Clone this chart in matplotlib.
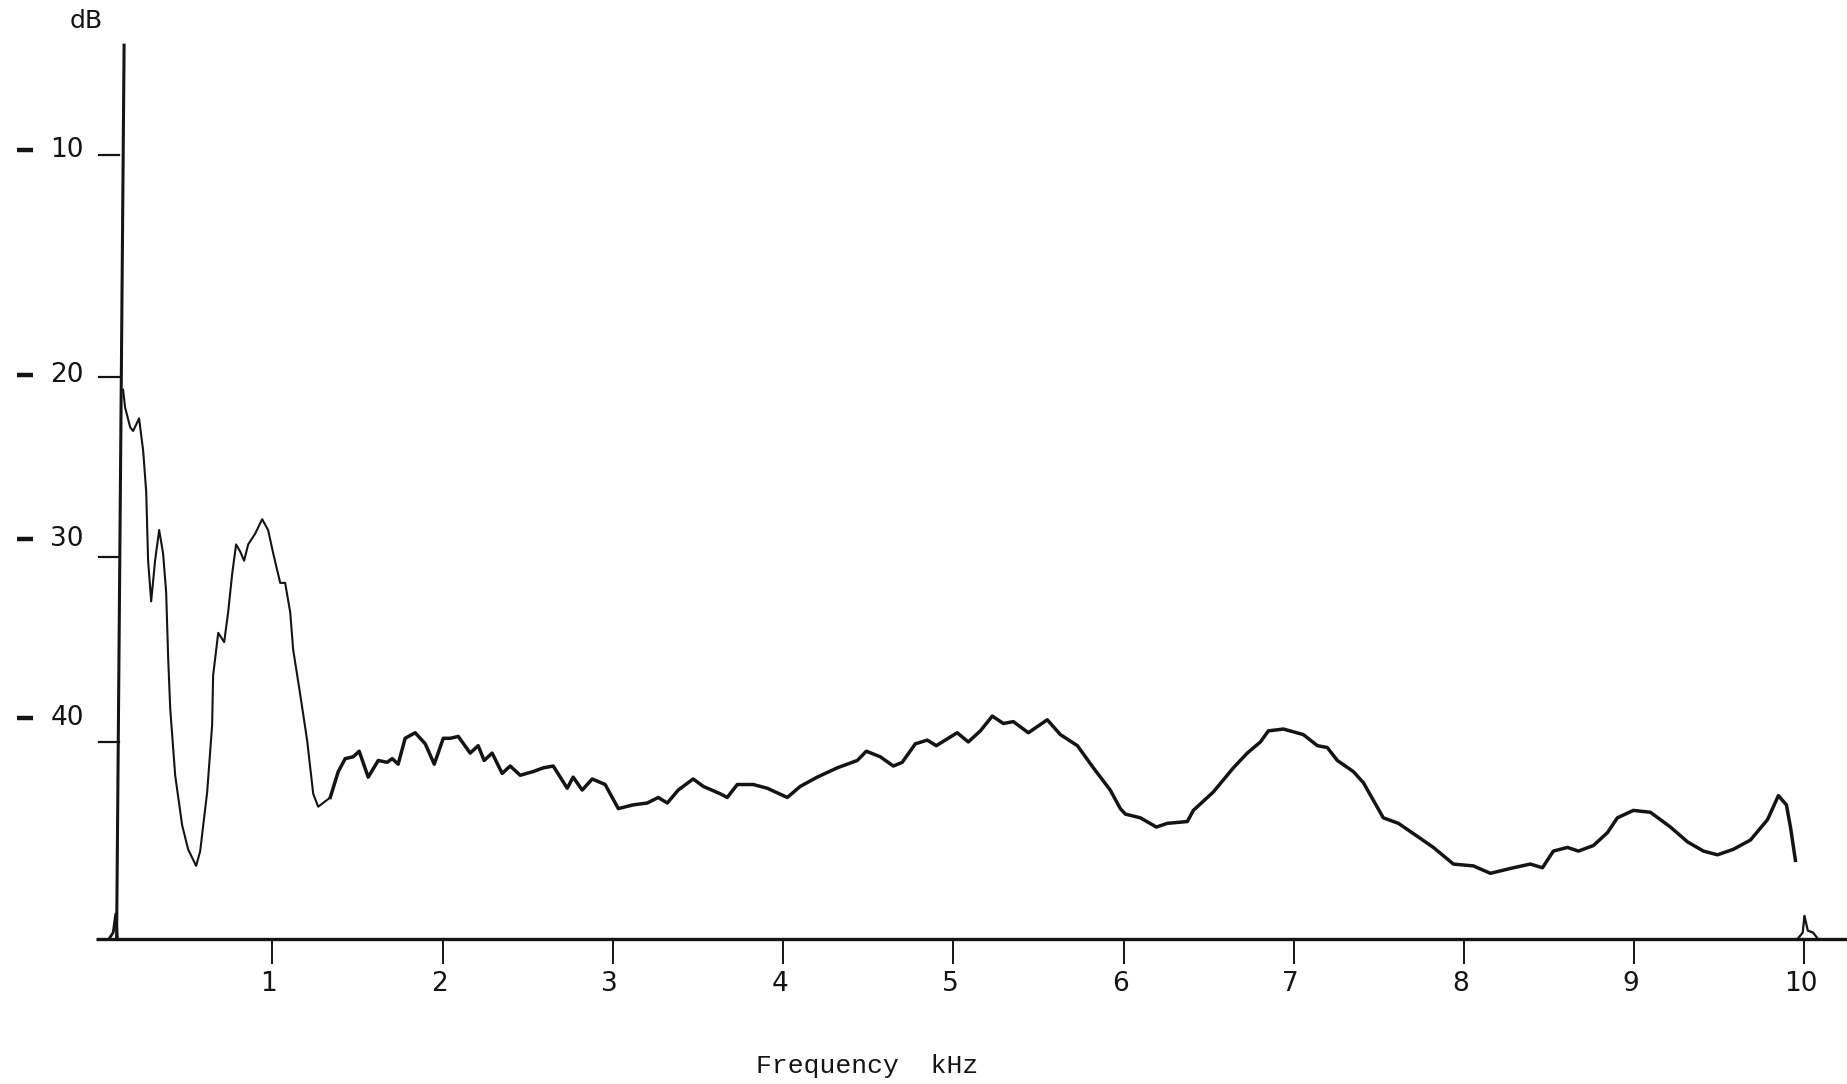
import numpy as np
import matplotlib.pyplot as plt
from matplotlib.transforms import offset_copy

# ─── Data ─────────────────────────────────────────────────────────────────────
freq_khz = [0.123, 0.135, 0.165, 0.182, 0.217, 0.241, 0.259, 0.270, 0.288, 0.311,
            0.335, 0.358, 0.376, 0.388, 0.400, 0.429, 0.470, 0.505, 0.552, 0.576,
            0.617, 0.646, 0.652, 0.682, 0.717, 0.740, 0.764, 0.787, 0.811, 0.834,
            0.858, 0.899, 0.940, 0.975, 1.005, 1.046, 1.075, 1.105, 1.122, 1.163,
            1.204, 1.240, 1.269, 1.340, 1.387, 1.428, 1.475, 1.510, 1.563, 1.622,
            1.674, 1.704, 1.739, 1.780, 1.839, 1.898, 1.951, 2.004, 2.045, 2.092,
            2.162, 2.209, 2.244, 2.291, 2.350, 2.397, 2.456, 2.532, 2.591, 2.650,
            2.732, 2.767, 2.820, 2.879, 2.955, 3.032, 3.120, 3.202, 3.267, 3.320,
            3.384, 3.472, 3.531, 3.631, 3.672, 3.731, 3.825, 3.907, 4.025, 4.101,
            4.201, 4.318, 4.436, 4.489, 4.571, 4.648, 4.700, 4.777, 4.847, 4.900,
            5.023, 5.088, 5.159, 5.229, 5.294, 5.353, 5.441, 5.552, 5.629, 5.729,
            5.823, 5.922, 5.981, 6.011, 6.099, 6.193, 6.257, 6.375, 6.410, 6.528,
            6.645, 6.727, 6.804, 6.851, 6.939, 7.056, 7.139, 7.197, 7.256, 7.350,
            7.409, 7.526, 7.615, 7.726, 7.820, 7.938, 8.055, 8.155, 8.290, 8.390,
            8.461, 8.525, 8.608, 8.672, 8.760, 8.843, 8.901, 8.995, 9.095, 9.213,
            9.313, 9.407, 9.489, 9.583, 9.683, 9.783, 9.847, 9.894, 9.918, 9.947]
level_db = [20.7, 21.7, 22.8, 23.0, 22.3, 24.1, 26.4, 30.2, 32.4, 30.2,
            28.5, 29.8, 31.9, 35.5, 38.2, 41.8, 44.5, 45.8, 46.7, 45.9,
            42.7, 39.1, 36.4, 34.1, 34.6, 33.0, 30.9, 29.3, 29.7, 30.2,
            29.3, 28.7, 27.9, 28.5, 29.8, 31.4, 31.4, 33.0, 35.0, 37.4,
            39.9, 42.8, 43.5, 43.0, 41.6, 40.9, 40.8, 40.5, 41.9, 41.0,
            41.1, 40.9, 41.2, 39.8, 39.5, 40.1, 41.2, 39.8, 39.8, 39.7,
            40.6, 40.2, 41.0, 40.6, 41.7, 41.3, 41.8, 41.6, 41.4, 41.3,
            42.5, 41.9, 42.6, 42.0, 42.3, 43.6, 43.4, 43.3, 43.0, 43.3,
            42.6, 42.0, 42.4, 42.8, 43.0, 42.3, 42.3, 42.5, 43.0, 42.4,
            41.9, 41.4, 41.0, 40.5, 40.8, 41.3, 41.1, 40.1, 39.9, 40.2,
            39.5, 40.0, 39.4, 38.6, 39.0, 38.9, 39.5, 38.8, 39.6, 40.2,
            41.4, 42.6, 43.6, 43.9, 44.1, 44.6, 44.4, 44.3, 43.7, 42.7,
            41.4, 40.6, 40.0, 39.4, 39.3, 39.6, 40.2, 40.3, 41.0, 41.6,
            42.2, 44.1, 44.4, 45.1, 45.7, 46.6, 46.7, 47.1, 46.8, 46.6,
            46.8, 45.9, 45.7, 45.9, 45.6, 44.9, 44.1, 43.7, 43.8, 44.6,
            45.4, 45.9, 46.1, 45.8, 45.3, 44.2, 42.9, 43.4, 44.6, 46.4]

# small pen blips on the baseline at both ends
spike_khz = [0.04, 0.065, 0.08, 0.09]
spike_db = [50.65, 50.3, 49.3, 50.65]
blip_khz = [9.96, 9.99, 10.0, 10.02, 10.05, 10.08]
blip_db = [50.65, 50.3, 49.4, 50.2, 50.3, 50.65]

x_ticks = [1, 2, 3, 4, 5, 6, 7, 8, 9, 10]
x_labels = [str(t) for t in x_ticks]
y_ticks = [10, 20, 30, 40]
y_labels = ['10', '20', '30', '40']

BASELINE_DB = 50.65
AXIS_TOP_DB = 3.96

# recorder paper scale (dB -> distance from top); the 10 dB line sits a bit high
SCALE_DB = [-20, 10, 20, 30, 40, 80]
SCALE_POS = [-391, 155, 377, 557, 742, 1482]

def fwd(v):
    return np.interp(v, SCALE_DB, SCALE_POS)

def inv(p):
    return np.interp(p, SCALE_POS, SCALE_DB)

# ─── Figure ───────────────────────────────────────────────────────────────────
INK = '#141414'
fig = plt.figure(figsize=(18.47, 10.84), dpi=100)
fig.patch.set_facecolor('white')
ax = fig.add_axes([0, 0, 1, 1])
ax.set_yscale('function', functions=(fwd, inv))
ax.set_xlim(-0.6, 10.25)
ax.set_ylim(58.49, 1.48)
ax.axis('off')

# axes lines
ax.plot([-0.035, 10.25], [BASELINE_DB, BASELINE_DB], color=INK, lw=2.4, solid_capstyle='butt')
ax.plot([0.085, 0.129], [BASELINE_DB, AXIS_TOP_DB], color=INK, lw=2.2)

# trace: faint thin pen in the steep low-frequency part, heavier afterwards
split = 43
ax.plot(freq_khz[:split + 1], level_db[:split + 1], color=INK, lw=1.5)
ax.plot(freq_khz[split:], level_db[split:], color=INK, lw=2.5)
ax.plot(spike_khz, spike_db, color=INK, lw=2.0)
ax.plot(blip_khz, blip_db, color=INK, lw=1.6)

# x ticks and labels
for t, lab in zip(x_ticks, x_labels):
    ax.plot([t, t], [BASELINE_DB, 51.95], color=INK, lw=1.4)
    ax.text(t - 0.02, 53.1, lab, ha='center', va='center', fontsize=19,
            color=INK, family='DejaVu Sans')

# y ticks, with the typed labels slightly above their lines
label_shift_px = [5, 2, 18, 24]
for t, lab, sh in zip(y_ticks, y_labels, label_shift_px):
    ax.plot([-0.02, 0.10], [t, t], color=INK, lw=1.6)
    tr = offset_copy(ax.transData, fig=fig, x=0, y=sh, units='dots')
    ax.plot([-0.50, -0.405], [t, t], color=INK, lw=3.2, transform=tr,
            solid_capstyle='butt')
    ax.text(-0.206, t, lab, ha='center', va='center', fontsize=19,
            color=INK, family='DejaVu Sans', transform=tr)

ax.text(-0.095, 2.64, 'dB', ha='center', va='center', fontsize=18,
        color=INK, family='DejaVu Sans')
ax.text(4.495, 57.5, 'Frequency  kHz', ha='center', va='center', fontsize=19,
        color=INK, family='Liberation Mono')

plt.savefig('out.png', dpi=100, facecolor='white')
plt.close()
